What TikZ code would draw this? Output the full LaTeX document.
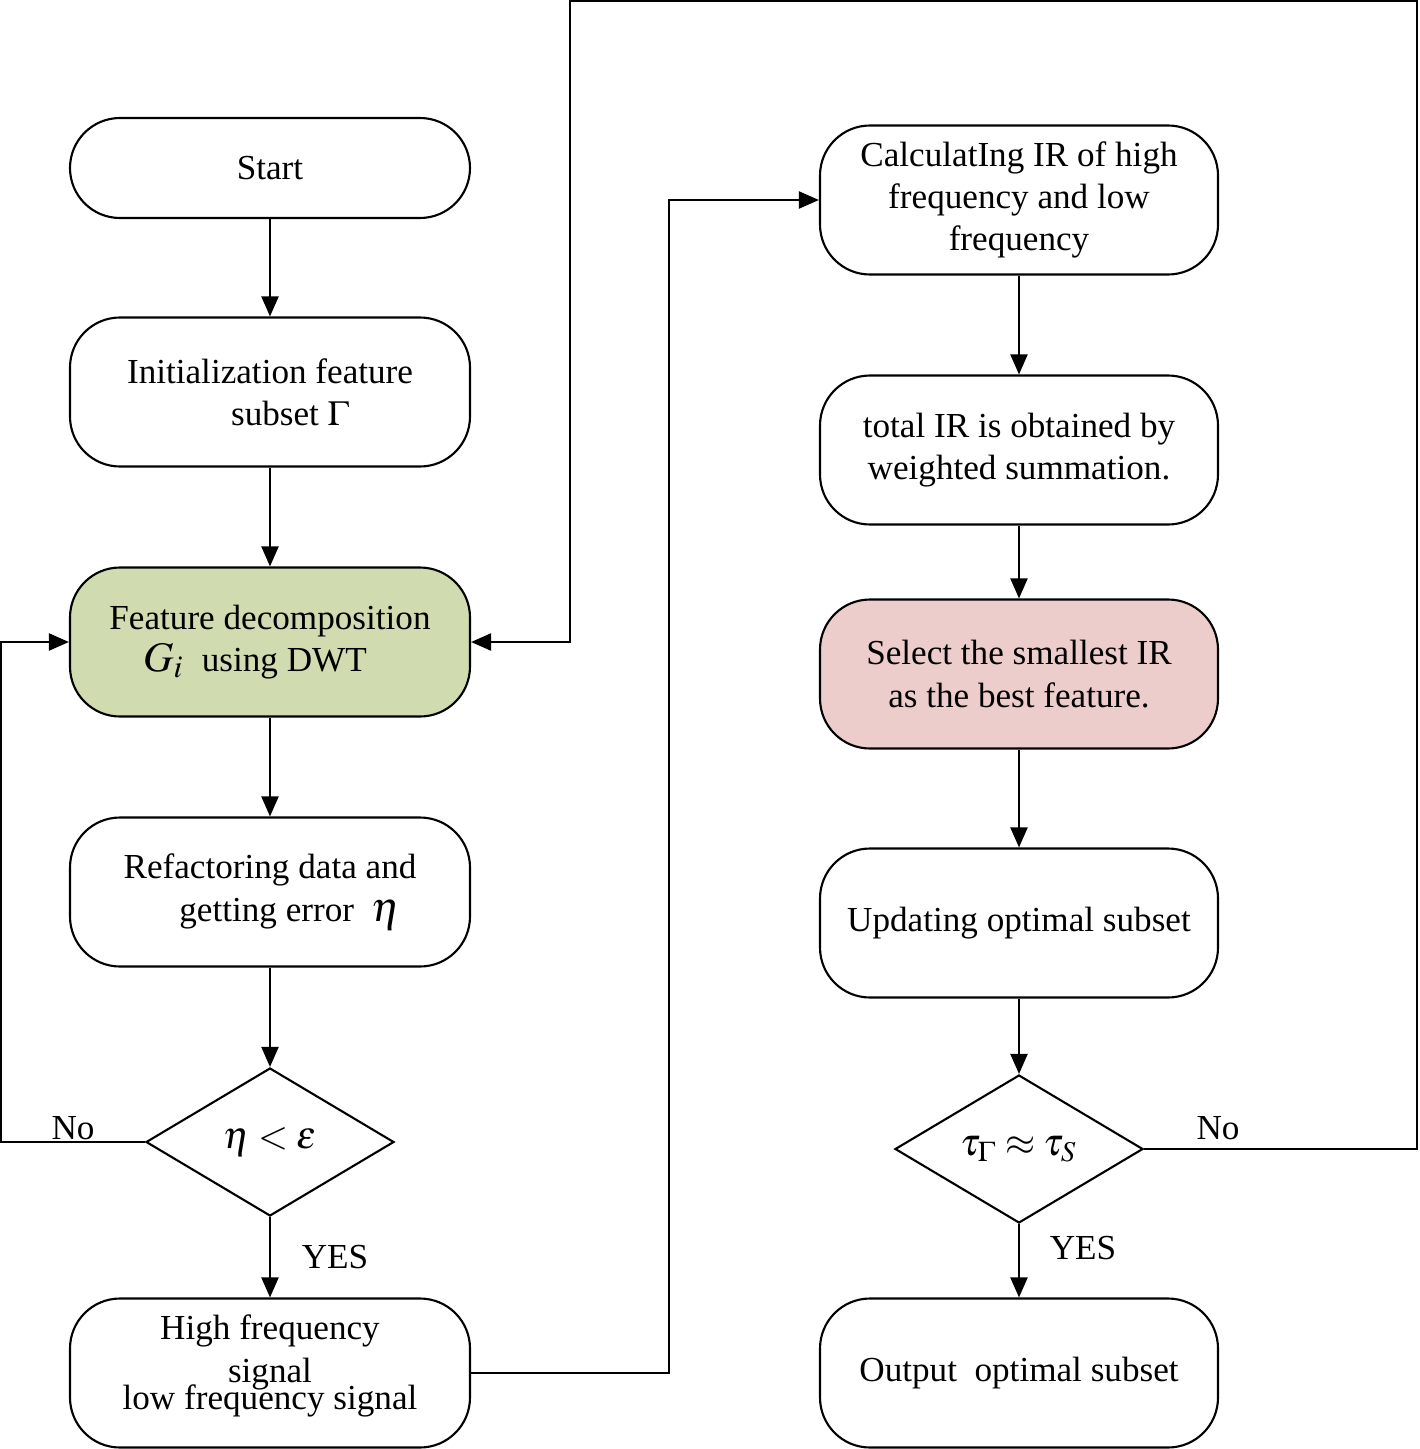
\documentclass[tikz,border=0pt]{standalone}
\usepackage{mathptmx}
\usepackage[no-math]{fontspec}
\setmainfont{Liberation Serif}
\usepackage{tikz}
\usetikzlibrary{arrows.meta, shapes.geometric, calc}

\definecolor{featgreen}{HTML}{D0DCAF}
\definecolor{selpink}{HTML}{EDCDCC}

\begin{document}
\begin{tikzpicture}[
        line width=0.6pt,
        every node/.style={font=\fontsize{10}{12}\selectfont},
        procbox/.style={draw, rounded corners=0.5cm, minimum width=4cm, minimum height=1.49cm, align=center, inner sep=0pt},
        startbox/.style={procbox, minimum height=1cm},
        decbox/.style={draw, diamond, aspect=1.68, minimum width=2.48cm, minimum height=1.48cm, inner sep=0pt, font=\fontsize{11}{13}\selectfont},
        arrow/.style={-{Triangle[length=0.2cm,width=0.17cm]}}
    ]
        \useasboundingbox (0,0) rectangle (14.19,-14.49);

        % left column
        \node[startbox] (start) at (2.70,-1.68) {Start};
        \node[procbox] (init) at (2.70,-3.92) {Initialization feature\\ \hspace*{0.4cm}subset $\Gamma$};
        \node[procbox, fill=featgreen] (feat) at (2.70,-6.42) {Feature decomposition\\ {\large$G_i$}\ \ using DWT\hspace*{0.3cm}};
        \node[procbox] (refac) at (2.70,-8.92) {Refactoring data and\\ \hspace*{0.4cm}getting error\ \ {\large$\eta$}};
        \node[decbox] (cond1) at (2.70,-11.42) {$\eta<\varepsilon$};
        \node[procbox] (high) at (2.70,-13.73) {\raisebox{0pt}[\height][\dimexpr\depth+0.14cm\relax]{\parbox{4cm}{\centering High frequency\\ signal\\[-0.15cm] low frequency signal}}};

        % right column
        \node[procbox, minimum width=3.98cm] (calc) at (10.19,-2.00) {CalculatIng IR of high\\ frequency and low\\ frequency};
        \node[procbox, minimum width=3.98cm] (total) at (10.19,-4.50) {total IR is obtained by\\ weighted summation.};
        \node[procbox, minimum width=3.98cm, fill=selpink] (select) at (10.19,-6.74) {Select the smallest IR\\ as the best feature.};
        \node[procbox, minimum width=3.98cm] (update) at (10.19,-9.23) {Updating optimal subset};
        \node[decbox] (cond2) at (10.19,-11.49) {$\tau_\Gamma\approx\tau_S$};
        \node[procbox, minimum width=3.98cm] (output) at (10.19,-13.73) {Output\ \ optimal subset};

        \coordinate (leftrail) at (0.01,-9.00);
        \coordinate (midrail) at (6.69,-7.00);
        \coordinate (topright) at (14.17,-0.012);
        \coordinate (topleft) at (5.70,-0.012);

        \foreach \a/\b in {start/init, init/feat, feat/refac, refac/cond1, cond1/high,
                           calc/total, total/select, select/update, update/cond2, cond2/output}
            \draw[arrow] (\a) -- (\b);

        \draw[arrow] (cond1.west) -| (leftrail) |- (feat.west);
        \draw[arrow] (high.east) -| (midrail) |- (calc.west);
        \draw[arrow] (cond2.east) -| (topright) -- (topleft) |- (feat.east);

        \node (no1) at (0.73,-11.28) {No};
        \node (yes1) at (3.35,-12.57) {YES};
        \node (no2) at (12.18,-11.28) {No};
        \node (yes2) at (10.83,-12.48) {YES};
    \end{tikzpicture}
\end{document}
